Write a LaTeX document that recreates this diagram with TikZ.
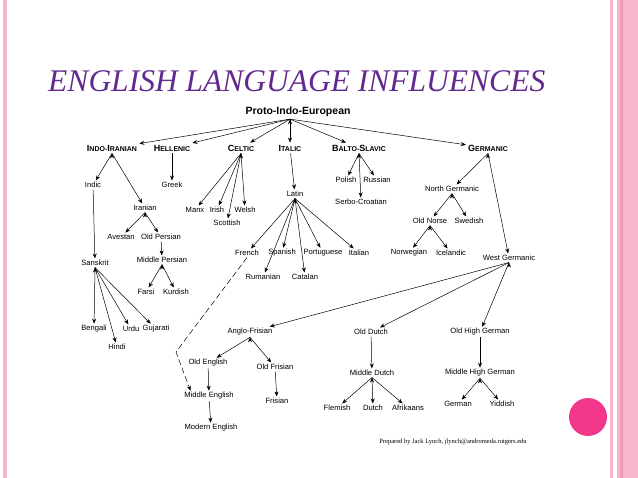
\documentclass[tikz,border=0pt]{standalone}
\usepackage{fontspec}
\setmainfont{Liberation Sans}
\newfontfamily\titlefont{Liberation Serif}
\usepackage{tikz}
\usetikzlibrary{arrows.meta}
\definecolor{titlepurple}{HTML}{62298E}
\definecolor{stripe}{HTML}{F7B6CA}
\definecolor{stripedark}{HTML}{EC9DB9}
\definecolor{pinkdot}{HTML}{F2388A}
% fake small caps for the family names
\newcommand{\famsc}[2]{{\fontsize{9}{10}\selectfont #1}{\fontsize{7}{8}\selectfont #2}}

\begin{document}
\begin{tikzpicture}[x=1pt, y=-1pt,
	lang/.style={font=\fontsize{7.6}{9}\selectfont, inner sep=1.5pt},
	family/.style={font=\bfseries, inner sep=2pt},
	>={Stealth[length=5pt,width=4pt]}, line width=0.5pt]
	\useasboundingbox (0,0) rectangle (638,478);
	\fill[white] (0,0) rectangle (638,478);
	% slide frame
	\fill[stripe] (3,0) rectangle (7,478);
	\fill[stripe] (610,0) rectangle (613,478);
	\fill[stripe] (617,0) rectangle (638,478);
	\fill[stripedark] (620,0) rectangle (623,478);
	\fill[pinkdot] (588,417) circle (19);
	\node[anchor=base west, inner sep=0, text=titlepurple, font=\titlefont\itshape\fontsize{31.5}{34}\selectfont] (title) at (48,92) {ENGLISH LANGUAGE INFLUENCES};

	\node[family, font=\bfseries\fontsize{10.5}{12}\selectfont] at (298,112) (pie) {Proto-Indo-European};
	\node[family] at (112,148) (indoiranian) {\famsc{I}{NDO-}\famsc{I}{RANIAN}};
	\node[family] at (172,148) (hellenic) {\famsc{H}{ELLENIC}};
	\node[family] at (241,148) (celtic) {\famsc{C}{ELTIC}};
	\node[family] at (290,148) (italic) {\famsc{I}{TALIC}};
	\node[family] at (359,148) (baltoslavic) {\famsc{B}{ALTO-}\famsc{S}{LAVIC}};
	\node[family] at (488,148) (germanic) {\famsc{G}{ERMANIC}};

	\node[lang] at (93,185) (indic) {Indic};
	\node[lang] at (172,185) (greek) {Greek};
	\node[lang] at (145,208) (iranian) {Iranian};
	\node[lang] at (195,210) (manx) {Manx};
	\node[lang] at (217,210) (irish) {Irish};
	\node[lang] at (245,210) (welsh) {Welsh};
	\node[lang] at (227,223) (scottish) {Scottish};
	\node[lang] at (295,194) (latin) {Latin};
	\node[lang] at (346,180) (polish) {Polish};
	\node[lang] at (377,180) (russian) {Russian};
	\node[lang] at (361,202) (serbocroatian) {Serbo-Croatian};
	\node[lang] at (452,189) (northgermanic) {North Germanic};
	\node[lang] at (430,221) (oldnorse) {Old Norse};
	\node[lang] at (469,221) (swedish) {Swedish};

	\node[lang] at (121,237) (avestan) {Avestan};
	\node[lang] at (161,237) (oldpersian) {Old Persian};
	\node[lang] at (162,260) (middlepersian) {Middle Persian};
	\node[lang] at (146,292) (farsi) {Farsi};
	\node[lang] at (176,292) (kurdish) {Kurdish};
	\node[lang] at (95,263) (sanskrit) {Sanskrit};
	\node[lang] at (247,253) (french) {French};
	\node[lang] at (282,253) (spanish) {Spanish};
	\node[lang] at (323,253) (portuguese) {Portuguese};
	\node[lang] at (359,253) (italian) {Italian};
	\node[lang] at (263,277) (rumanian) {Rumanian};
	\node[lang] at (305,277) (catalan) {Catalan};
	\node[lang] at (409,253) (norwegian) {Norwegian};
	\node[lang] at (451,253) (icelandic) {Icelandic};
	\node[lang] at (509,258) (westgermanic) {West Germanic};

	\node[lang] at (94,329) (bengali) {Bengali};
	\node[lang] at (131,329) (urdu) {Urdu};
	\node[lang] at (156,329) (gujarati) {Gujarati};
	\node[lang] at (117,347) (hindi) {Hindi};
	\node[lang] at (250,332) (anglofrisian) {Anglo-Frisian};
	\node[lang] at (371,332) (olddutch) {Old Dutch};
	\node[lang] at (480,332) (oldhighgerman) {Old High German};
	\node[lang] at (208,363) (oldenglish) {Old English};
	\node[lang] at (275,367) (oldfrisian) {Old Frisian};
	\node[lang] at (209,396) (middleenglish) {Middle English};
	\node[lang] at (277,401) (frisian) {Frisian};
	\node[lang] at (211,428) (modernenglish) {Modern English};
	\node[lang] at (372,373) (middledutch) {Middle Dutch};
	\node[lang] at (480,373) (middlehighgerman) {Middle High German};
	\node[lang] at (337,408) (flemish) {Flemish};
	\node[lang] at (373,408) (dutch) {Dutch};
	\node[lang] at (408,408) (afrikaans) {Afrikaans};
	\node[lang] at (458,404) (german) {German};
	\node[lang] at (502,404) (yiddish) {Yiddish};

	\node[font=\titlefont\fontsize{6.5}{8}\selectfont, inner sep=0] at (453,442) (credits) {Prepared by Jack Lynch, jlynch@andromeda.rutgers.edu};

	\draw[->] ([xshift=-8pt]pie.south) edge (indoiranian) edge (hellenic) edge (celtic) edge (italic) edge (baltoslavic) edge (germanic);
	\draw[->] (indoiranian.south) edge (indic) edge (iranian);
	\draw[->] (hellenic) -- (greek);
	\draw[->] (celtic.south) edge (manx) edge (irish) edge (scottish) edge (welsh);
	\draw[->] (italic) -- (latin);
	\draw[->] (baltoslavic.south) edge (polish) edge (russian) edge (serbocroatian);
	\draw[->] (germanic.south) edge (northgermanic) edge (westgermanic);
	\draw[->] (indic) -- (sanskrit);
	\draw[->] (iranian.south) edge (avestan) edge (oldpersian);
	\draw[->] (oldpersian) -- (middlepersian);
	\draw[->] (middlepersian.south) edge (farsi) edge (kurdish);
	\draw[->] (sanskrit.south) edge (bengali) edge (hindi) edge (urdu) edge (gujarati);
	\draw[->] (latin.south) edge (french) edge (rumanian) edge (spanish) edge (catalan) edge (portuguese) edge (italian);
	\draw[->] (northgermanic.south) edge (oldnorse) edge (swedish);
	\draw[->] (oldnorse.south) edge (norwegian) edge (icelandic);
	\draw[->] (westgermanic.south) edge (anglofrisian) edge (olddutch) edge (oldhighgerman);
	\draw[->] (anglofrisian.south) edge (oldenglish) edge (oldfrisian);
	\draw[->] (oldenglish) -- (middleenglish);
	\draw[->] (oldfrisian) -- (frisian);
	\draw[->] (middleenglish) -- (modernenglish);
	\draw[->] (olddutch) -- (middledutch);
	\draw[->] (middledutch.south) edge (flemish) edge (dutch) edge (afrikaans);
	\draw[->] (oldhighgerman) -- (middlehighgerman);
	\draw[->] (middlehighgerman.south) edge (german) edge (yiddish);
	% French loans into Middle English
	\coordinate (frbend) at (176,352);
	\draw[->, dash pattern=on 6pt off 3pt] (french.south) -- (frbend) -- ([xshift=8pt]middleenglish.north west);
\end{tikzpicture}
\end{document}
